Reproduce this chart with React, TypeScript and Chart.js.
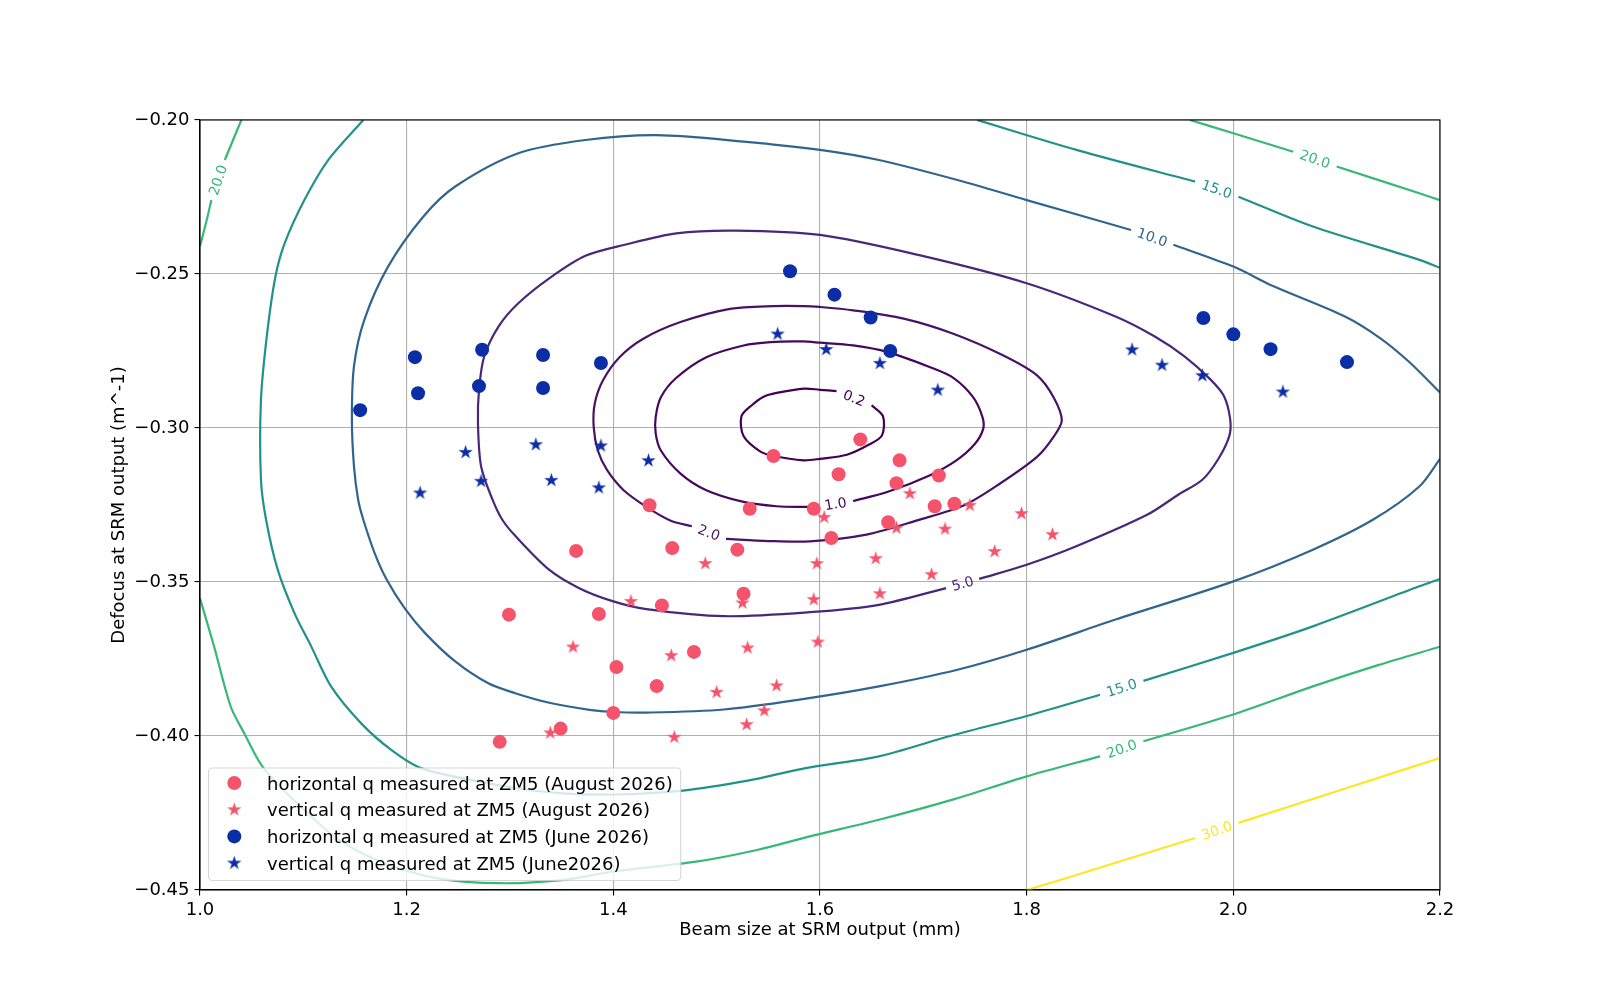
import { useEffect, useRef } from 'react';
import { Chart, registerables } from 'chart.js';

Chart.register(...registerables);

type Pt = [number, number];
type Piece = (Pt | null)[];

const xTicks = [1.0, 1.2, 1.4, 1.6, 1.8, 2.0, 2.2];
const yTicks = [-0.45, -0.4, -0.35, -0.3, -0.25, -0.2];

const seriesLabels = [
  'horizontal q measured at ZM5 (August 2026)',
  'vertical q measured at ZM5 (August 2026)',
  'horizontal q measured at ZM5 (June 2026)',
  'vertical q measured at ZM5 (June2026)',
];

const augHorizontal: Pt[] = [
  [1.639, -0.3037], [1.555, -0.3091], [1.677, -0.3105], [1.618, -0.315], [1.674, -0.3179],
  [1.715, -0.3154], [1.435, -0.3251], [1.532, -0.3262], [1.594, -0.3262], [1.711, -0.3254],
  [1.73, -0.3246], [1.666, -0.3306], [1.611, -0.3357], [1.364, -0.3399], [1.457, -0.339],
  [1.52, -0.3395], [1.526, -0.3538], [1.447, -0.3576], [1.299, -0.3606], [1.386, -0.3604],
  [1.478, -0.3727], [1.403, -0.3776], [1.442, -0.3838], [1.4, -0.3925], [1.349, -0.3976],
  [1.29, -0.4019],
];

const augVertical: Pt[] = [
  [1.687, -0.3213], [1.745, -0.3251], [1.795, -0.3278], [1.604, -0.329], [1.674, -0.3325],
  [1.721, -0.3328], [1.825, -0.3346], [1.769, -0.3401], [1.489, -0.344], [1.597, -0.344],
  [1.654, -0.3424], [1.708, -0.3476], [1.658, -0.3538], [1.417, -0.3563], [1.525, -0.3568],
  [1.594, -0.3557], [1.598, -0.3695], [1.361, -0.3711], [1.456, -0.3739], [1.53, -0.3714],
  [1.5, -0.3858], [1.558, -0.3837], [1.546, -0.3918], [1.529, -0.3963], [1.339, -0.399],
  [1.459, -0.4004],
];

const juneHorizontal: Pt[] = [
  [1.155, -0.2942], [1.208, -0.277], [1.211, -0.2887], [1.273, -0.2746], [1.27, -0.2864],
  [1.332, -0.2763], [1.332, -0.287], [1.388, -0.2789], [1.571, -0.2491], [1.614, -0.2567],
  [1.649, -0.2641], [1.668, -0.275], [1.971, -0.2643], [2.0, -0.2696], [2.036, -0.2744],
  [2.11, -0.2786],
];

const juneVertical: Pt[] = [
  [1.559, -0.2695], [1.257, -0.3079], [1.325, -0.3054], [1.388, -0.3058], [1.434, -0.3106],
  [1.272, -0.3173], [1.34, -0.317], [1.386, -0.3194], [1.213, -0.3211], [1.606, -0.2745],
  [1.658, -0.279], [1.714, -0.2877], [1.902, -0.2746], [1.931, -0.2796], [1.97, -0.283],
  [2.048, -0.2883],
];

const contourLevels = [0.2, 1.0, 2.0, 5.0, 10.0, 15.0, 20.0, 30.0];
const contourColors = ['#440154', '#46085c', '#471365', '#482878', '#32658e', '#21918c', '#37b878', '#fde725'];

// null = gap where the inline level label sits (a leading null wraps to the end)
const contour0_2: Piece[] = [[
  null, [1.65, -0.2926], [1.661, -0.2962], [1.66, -0.3024], [1.648, -0.3053], [1.626, -0.3087],
  [1.6, -0.31], [1.584, -0.3105], [1.555, -0.3091], [1.542, -0.3076], [1.526, -0.3026],
  [1.524, -0.2962], [1.534, -0.2926], [1.545, -0.2899], [1.558, -0.2886], [1.585, -0.2872],
  [1.6, -0.2876], [1.616, -0.288],
]];

const contour1: Piece[] = [[
  null, [1.632, -0.3237], [1.665, -0.3208], [1.706, -0.3154], [1.732, -0.3105], [1.75, -0.3051],
  [1.758, -0.3002], [1.757, -0.2962], [1.748, -0.2899], [1.729, -0.2837], [1.706, -0.2802],
  [1.665, -0.2753], [1.632, -0.2732], [1.6, -0.2723], [1.583, -0.2719], [1.552, -0.2721],
  [1.526, -0.2732], [1.49, -0.277], [1.461, -0.2837], [1.446, -0.29], [1.441, -0.2964],
  [1.441, -0.3018], [1.446, -0.3073], [1.465, -0.3148], [1.49, -0.3202], [1.526, -0.324],
  [1.558, -0.3254], [1.584, -0.3256], [1.598, -0.3256],
]];

const contour2: Piece[] = [[
  null, [1.509, -0.336], [1.55, -0.3367], [1.59, -0.3368], [1.645, -0.3346], [1.694, -0.33],
  [1.74, -0.325], [1.774, -0.3181], [1.81, -0.3094], [1.826, -0.3029], [1.834, -0.2975],
  [1.826, -0.29], [1.81, -0.2829], [1.777, -0.2764], [1.729, -0.2694], [1.681, -0.2645],
  [1.632, -0.2618], [1.6, -0.2607], [1.584, -0.2604], [1.555, -0.2604], [1.513, -0.2613],
  [1.465, -0.2656], [1.429, -0.271], [1.406, -0.277], [1.39, -0.2845], [1.382, -0.2921],
  [1.381, -0.2997], [1.385, -0.3073], [1.394, -0.3137], [1.41, -0.3202], [1.432, -0.3256],
  [1.455, -0.33], [1.476, -0.3319],
]];

const contour5: Piece[] = [[
  null, [1.754, -0.349], [1.8, -0.3444], [1.848, -0.3384], [1.917, -0.3281], [1.947, -0.3216],
  [1.97, -0.3168], [1.985, -0.3103], [1.996, -0.3027], [1.997, -0.2973], [1.991, -0.2897],
  [1.978, -0.2843], [1.953, -0.2768], [1.924, -0.2703], [1.886, -0.2638], [1.8, -0.253],
  [1.695, -0.2438], [1.6, -0.2373], [1.518, -0.2359], [1.461, -0.2368], [1.411, -0.2405],
  [1.373, -0.2441], [1.338, -0.2514], [1.308, -0.2595], [1.289, -0.267], [1.275, -0.2768],
  [1.27, -0.2876], [1.269, -0.2984], [1.272, -0.3124], [1.283, -0.3232], [1.2924, -0.3297],
  [1.3053, -0.3351], [1.3378, -0.346], [1.367, -0.352], [1.4, -0.3563], [1.432, -0.3588],
  [1.507, -0.3611], [1.59, -0.3598], [1.657, -0.3574], [1.722, -0.352],
]];

const contour10: Piece[] = [[
  [2.2, -0.2885], [2.17, -0.2785], [2.142, -0.2708], [2.108, -0.2638], [2.039, -0.254],
  [2.0, -0.2476], [1.942, -0.2405], null, [1.901, -0.2357], [1.8, -0.226], [1.733, -0.2195],
  [1.657, -0.213], [1.6, -0.2097], [1.526, -0.207], [1.442, -0.2049], [1.373, -0.2065],
  [1.308, -0.2108], [1.247, -0.2216], [1.216, -0.2314], [1.182, -0.2476], [1.159, -0.2649],
  [1.149, -0.28], [1.147, -0.2973], [1.149, -0.3124], [1.153, -0.3232], [1.158, -0.3297],
  [1.169, -0.3406], [1.1806, -0.3492], [1.198, -0.3585], [1.2178, -0.3666], [1.247, -0.3758],
  [1.279, -0.3829], [1.305, -0.3861], [1.338, -0.3892], [1.377, -0.3915], [1.4, -0.3922],
  [1.432, -0.3924], [1.507, -0.3914], [1.58, -0.3882], [1.657, -0.3839], [1.733, -0.3785],
  [1.8, -0.372], [1.886, -0.3622], [2.0, -0.3498], [2.077, -0.3395], [2.135, -0.3298],
  [2.18, -0.319], [2.2, -0.31],
]];

const contour15: Piece[] = [
  [
    [1.158, -0.2], [1.124, -0.213], [1.101, -0.226], [1.082, -0.24], [1.073, -0.2508],
    [1.065, -0.2692], [1.059, -0.2908], [1.059, -0.3168], [1.0639, -0.3297], [1.0752, -0.346],
    [1.0914, -0.3601], [1.1076, -0.3709], [1.127, -0.384], [1.156, -0.3959], [1.1854, -0.4046],
    [1.2146, -0.4105], [1.296, -0.4164], [1.351, -0.4186], [1.4, -0.419], [1.465, -0.4178],
    [1.53, -0.4145], [1.585, -0.4105], [1.657, -0.4066], [1.725, -0.4001], [1.8, -0.3935],
    [1.871, -0.3866], null, [1.913, -0.3821], [2.0, -0.373], [2.077, -0.3644], [2.18, -0.3514],
    [2.2, -0.349],
  ],
  [
    [1.752, -0.2], [1.848, -0.2097], [1.963, -0.22], null, [2.005, -0.2249], [2.077, -0.2346],
    [2.18, -0.2454], [2.2, -0.248],
  ],
];

const contour20: Piece[] = [
  [[1.04, -0.2], [1.032, -0.2065], [1.024, -0.213], null, [1.011, -0.226], [1.0065, -0.2325], [1.0, -0.241]],
  [[1.958, -0.2], [2.0, -0.2043], [2.058, -0.2103], null, [2.1, -0.2151], [2.18, -0.2238], [2.2, -0.226]],
  [
    [1.0, -0.3553], [1.0136, -0.3709], [1.0298, -0.3905], [1.0428, -0.3991], [1.0606, -0.41],
    [1.095, -0.4222], [1.135, -0.4338], [1.18, -0.4415], [1.23, -0.4462], [1.29, -0.4478],
    [1.35, -0.4468], [1.4, -0.444], [1.48, -0.4408], [1.539, -0.437], [1.59, -0.4326],
    [1.657, -0.4272], [1.73, -0.4205], [1.8, -0.4131], [1.871, -0.4066], null, [1.913, -0.4017],
    [2.0, -0.393], [2.077, -0.3839], [2.14, -0.377], [2.2, -0.371],
  ],
];

const contour30: Piece[] = [[
  [1.8, -0.45], [1.834, -0.4466], [1.963, -0.4331], null, [2.005, -0.4282], [2.18, -0.4093], [2.2, -0.4071],
]];

const contourPieces: Piece[][] = [contour0_2, contour1, contour2, contour5, contour10, contour15, contour20, contour30];

const RED = '#f5536b';
const BLUE = '#0b2ea6';
const FONT = "'DejaVu Sans', sans-serif";
const FS = 18;

let starImages: HTMLCanvasElement[] = [];

function makeStar(color: string, r: number) {
  const size = Math.ceil(r * 2 + 2);
  const c = document.createElement('canvas');
  c.width = size;
  c.height = size;
  const g = c.getContext('2d')!;
  g.fillStyle = color;
  g.beginPath();
  for (let i = 0; i < 10; i++) {
    const rad = i % 2 === 0 ? r : r * 0.381966;
    const a = -Math.PI / 2 + (i * Math.PI) / 5;
    const px = size / 2 + rad * Math.cos(a);
    const py = size / 2 + rad * Math.sin(a);
    if (i === 0) g.moveTo(px, py);
    else g.lineTo(px, py);
  }
  g.closePath();
  g.fill();
  return c;
}

function splitPiece(piece: Piece): Pt[][] {
  const segs: Pt[][] = [];
  let cur: Pt[] = [];
  piece.forEach((p) => {
    if (p === null) {
      if (cur.length) segs.push(cur);
      cur = [];
    } else cur.push(p);
  });
  if (cur.length) segs.push(cur);
  return segs;
}

const framePlugin = {
  id: 'frame',
  afterDatasetsDraw(chart: any) {
    const { ctx, chartArea: a } = chart;
    ctx.save();
    ctx.strokeStyle = '#000';
    ctx.lineWidth = 1.1;
    ctx.strokeRect(a.left, a.top, a.right - a.left, a.bottom - a.top);
    ctx.restore();
  },
};

const contourLabelPlugin = {
  id: 'contourLabels',
  afterDatasetsDraw(chart: any) {
    const { ctx, chartArea: a, scales } = chart;
    const toPx = (p: Pt) => ({ x: scales.x.getPixelForValue(p[0]), y: scales.y.getPixelForValue(p[1]) });
    ctx.save();
    ctx.beginPath();
    ctx.rect(a.left, a.top, a.right - a.left, a.bottom - a.top);
    ctx.clip();
    ctx.font = `14px ${FONT}`;
    ctx.textAlign = 'center';
    ctx.textBaseline = 'middle';
    contourPieces.forEach((pieces, li) => {
      pieces.forEach((piece) => {
        piece.forEach((p, i) => {
          if (p !== null) return;
          let prev: Pt | null = null;
          for (let j = i - 1; j >= 0 && !prev; j--) prev = piece[j];
          for (let j = piece.length - 1; j > i && !prev; j--) prev = piece[j];
          let next: Pt | null = null;
          for (let j = i + 1; j < piece.length && !next; j++) next = piece[j];
          if (!prev || !next) return;
          const A = toPx(prev);
          const B = toPx(next);
          let ang = Math.atan2(B.y - A.y, B.x - A.x);
          if (ang > Math.PI / 2) ang -= Math.PI;
          if (ang < -Math.PI / 2) ang += Math.PI;
          ctx.save();
          ctx.translate((A.x + B.x) / 2, (A.y + B.y) / 2);
          ctx.rotate(ang);
          ctx.fillStyle = contourColors[li];
          ctx.fillText(contourLevels[li].toFixed(1), 0, 1);
          ctx.restore();
        });
      });
    });
    ctx.restore();
  },
};

const legendPlugin = {
  id: 'boxLegend',
  afterDraw(chart: any) {
    const { ctx, chartArea: a } = chart;
    const markers = [
      { color: RED, star: 0 },
      { color: RED, star: 1 },
      { color: BLUE, star: 0 },
      { color: BLUE, star: 2 },
    ];
    ctx.save();
    ctx.font = `${FS}px ${FONT}`;
    const textW = Math.max(...seriesLabels.map((t) => ctx.measureText(t).width));
    const left = a.left + 8.5;
    const bottom = a.bottom - 9.5;
    const top = bottom - 112.5;
    const right = left + 58.5 + textW + 8;
    const r = 4;
    ctx.beginPath();
    ctx.moveTo(left + r, top);
    ctx.arcTo(right, top, right, bottom, r);
    ctx.arcTo(right, bottom, left, bottom, r);
    ctx.arcTo(left, bottom, left, top, r);
    ctx.arcTo(left, top, right, top, r);
    ctx.closePath();
    ctx.fillStyle = 'rgba(255,255,255,0.8)';
    ctx.fill();
    ctx.strokeStyle = 'rgba(204,204,204,0.8)';
    ctx.lineWidth = 1.1;
    ctx.stroke();
    ctx.textAlign = 'left';
    ctx.textBaseline = 'alphabetic';
    seriesLabels.forEach((label, i) => {
      const cy = top + 15 + i * 26.7;
      const mx = left + 25.8;
      const m = markers[i];
      const s = m.star ? starImages[m.star - 1] : undefined;
      if (s) {
        ctx.drawImage(s, mx - s.width / 2, cy - s.height / 2);
      } else {
        ctx.fillStyle = m.color;
        ctx.beginPath();
        ctx.arc(mx, cy, 7, 0, Math.PI * 2);
        ctx.fill();
      }
      ctx.fillStyle = '#000';
      ctx.fillText(label, left + 58.5, cy + 6.5);
    });
    ctx.restore();
  },
};

export default function App() {
  const canvasRef = useRef<HTMLCanvasElement>(null);
  const chartRef = useRef<Chart | null>(null);

  useEffect(() => {
    if (!canvasRef.current) return;
    const redStar = makeStar(RED, 7.5);
    const blueStar = makeStar(BLUE, 7.5);
    starImages = [redStar, blueStar];

    const scatter = (label: string, pts: Pt[], color: string, style: any, order: number) => ({
      type: 'scatter' as const,
      label,
      data: pts.map(([x, y]) => ({ x, y })),
      pointStyle: style,
      pointRadius: 7,
      pointHoverRadius: 7,
      backgroundColor: color,
      borderColor: color,
      borderWidth: 0,
      showLine: false,
      order,
    });

    const contourSets: any[] = [];
    contourPieces.forEach((pieces, li) => {
      pieces.forEach((piece) => {
        splitPiece(piece).forEach((seg) => {
          contourSets.push({
            type: 'scatter',
            label: `level ${contourLevels[li]}`,
            data: seg.map(([x, y]) => ({ x, y })),
            showLine: true,
            borderColor: contourColors[li],
            backgroundColor: contourColors[li],
            borderWidth: 2.2,
            pointRadius: 0,
            pointHoverRadius: 0,
            tension: 0.3,
            fill: false,
            order: 10,
          });
        });
      });
    });

    Chart.defaults.font.family = FONT;
    Chart.defaults.color = '#000';

    const chart = new Chart(canvasRef.current, {
      type: 'scatter',
      data: {
        datasets: [
          scatter(seriesLabels[0], augHorizontal, RED, 'circle', 4),
          scatter(seriesLabels[1], augVertical, RED, redStar, 3),
          scatter(seriesLabels[2], juneHorizontal, BLUE, 'circle', 2),
          scatter(seriesLabels[3], juneVertical, BLUE, blueStar, 1),
          ...contourSets,
        ],
      },
      options: {
        responsive: true,
        maintainAspectRatio: false,
        animation: false,
        events: [],
        layout: { padding: { top: 120, right: 160, left: 0, bottom: 0 } },
        plugins: {
          legend: { display: false },
          tooltip: { enabled: false },
        },
        scales: {
          x: {
            type: 'linear',
            min: 1.0,
            max: 2.2,
            afterBuildTicks: (s: any) => {
              s.ticks = xTicks.map((v) => ({ value: v }));
            },
            afterFit: (s: any) => {
              s.height = 110;
            },
            ticks: {
              callback: (v: any) => Number(v).toFixed(1),
              color: '#000',
              padding: 4,
              autoSkip: false,
              maxRotation: 0,
              font: { size: FS },
            },
            grid: { color: '#b0b0b0', lineWidth: 1.1, tickColor: '#000', tickLength: 5.5, tickWidth: 1.1 },
            border: { display: true, color: '#000', width: 1.1 },
            title: {
              display: true,
              text: 'Beam size at SRM output (mm)',
              color: '#000',
              font: { size: FS },
              padding: { top: 0, bottom: 59 },
            },
          },
          y: {
            type: 'linear',
            min: -0.45,
            max: -0.2,
            afterBuildTicks: (s: any) => {
              s.ticks = yTicks.map((v) => ({ value: v }));
            },
            afterFit: (s: any) => {
              s.width = 200;
            },
            ticks: {
              callback: (v: any) => {
                const n = Number(v);
                return (n < 0 ? '\u2212' : '') + Math.abs(n).toFixed(2);
              },
              color: '#000',
              padding: 5,
              autoSkip: false,
              font: { size: FS },
            },
            grid: { color: '#b0b0b0', lineWidth: 1.1, tickColor: '#000', tickLength: 5.5, tickWidth: 1.1 },
            border: { display: true, color: '#000', width: 1.1 },
            title: {
              display: true,
              text: 'Defocus at SRM output (m^-1)',
              color: '#000',
              font: { size: FS },
              padding: { top: 109, bottom: 0 },
            },
          },
        },
      } as any,
      plugins: [framePlugin, contourLabelPlugin, legendPlugin],
    });
    chartRef.current = chart;

    return () => {
      chart.destroy();
      chartRef.current = null;
    };
  }, []);

  return (
    <div style={{ position: 'absolute', left: 0, top: 0, width: 1600, height: 1000, background: '#fff' }}>
      <canvas ref={canvasRef} />
    </div>
  );
}
